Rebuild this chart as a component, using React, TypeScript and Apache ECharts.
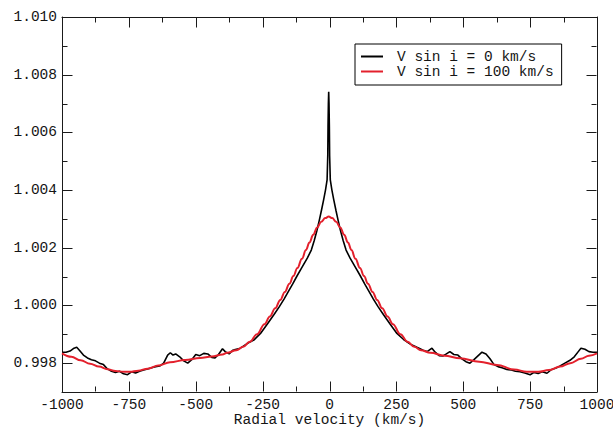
import React, { useEffect, useRef } from "react";
import * as echarts from "echarts";

// ---- Data ----
const seriesNames = ["V sin i = 0 km/s", "V sin i = 100 km/s"];

// V sin i = 0 km/s profile (radial velocity in km/s, normalised flux)
const vel0 = [
  -1000, -985, -970, -955, -945, -935, -920, -905, -890, -875, -860, -845, -830, -815, -800, -785,
  -770, -755, -740, -725, -710, -695, -680, -665, -650, -635, -620, -605, -595, -585, -575, -560,
  -545, -530, -515, -500, -485, -470, -455, -440, -428, -415, -400, -390, -375, -362, -356, -333,
  -308, -283, -258, -233, -208, -188, -170, -153, -138, -121, -103, -83, -68, -57, -47, -38,
  -30, -22, -15, -9, -6.5, -5.5, -4.2, -3, -1.8, -0.5, 0.5, 3, 9, 16, 24, 32,
  41, 51, 62, 77, 97, 115, 132, 147, 164, 182, 202, 227, 252, 277, 302, 327,
  350, 365, 383, 395, 410, 424, 437, 450, 465, 480, 495, 510, 525, 540, 555, 570,
  585, 600, 615, 630, 645, 663, 680, 695, 712, 730, 750, 765, 780, 795, 813, 830,
  845, 862, 880, 899, 915, 930, 940, 955, 970, 985, 1000,
];
const flux0 = [
  0.99838, 0.99838, 0.99842, 0.99852, 0.99855, 0.99845, 0.99828, 0.99818, 0.99812, 0.99808, 0.998, 0.99795, 0.9978, 0.99772, 0.99768, 0.99772,
  0.99763, 0.9976, 0.9977, 0.99766, 0.99772, 0.99776, 0.9978, 0.99784, 0.99788, 0.9979, 0.998, 0.99828, 0.99836, 0.99828, 0.99832, 0.99822,
  0.99808, 0.998, 0.99812, 0.9983, 0.99826, 0.99834, 0.99832, 0.9982, 0.99818, 0.9983, 0.9985, 0.9984, 0.99832, 0.99845, 0.99846, 0.99852,
  0.99868, 0.9988, 0.99903, 0.99935, 0.99968, 0.99995, 1.00022, 1.0005, 1.00074, 1.00103, 1.00132, 1.00164, 1.00192, 1.00225, 1.0026, 1.00296,
  1.0033, 1.00366, 1.004, 1.00435, 1.0052, 1.0062, 1.007, 1.00741, 1.007, 1.0062, 1.0052, 1.00435, 1.004, 1.00366, 1.0033, 1.00296,
  1.0026, 1.00225, 1.00192, 1.00164, 1.00132, 1.00103, 1.00074, 1.0005, 1.00022, 0.99995, 0.99968, 0.99935, 0.99903, 0.99882, 0.99866, 0.99855,
  0.99845, 0.9984, 0.99852, 0.99838, 0.99826, 0.99825, 0.99832, 0.9984, 0.9983, 0.99828, 0.99815, 0.99805, 0.998, 0.99812, 0.99825, 0.99838,
  0.99832, 0.99815, 0.99795, 0.99788, 0.99784, 0.99778, 0.99776, 0.99772, 0.9977, 0.99766, 0.9976, 0.99768, 0.99764, 0.9977, 0.99765, 0.99778,
  0.99782, 0.9979, 0.998, 0.9981, 0.99822, 0.9984, 0.99852, 0.99848, 0.9984, 0.99838, 0.99838,
];

// V sin i = 100 km/s profile
const vel100 = [
  -1000, -965, -930, -895, -862, -830, -800, -770, -746, -715, -680, -640, -596, -540, -484, -440,
  -400, -383, -348, -323, -298, -271, -243, -223, -203, -184, -167, -150, -135, -120, -103, -88,
  -75, -61, -46, -31, -16, -3, 10, 25, 40, 55, 69, 82, 97, 114, 129, 144,
  161, 178, 197, 217, 237, 265, 292, 317, 342, 377, 430, 488, 560, 626, 690, 738,
  780, 820, 862, 900, 940, 970, 1000,
];
const flux100 = [
  0.99834, 0.99822, 0.9981, 0.99798, 0.99788, 0.99779, 0.99773, 0.9977, 0.9977, 0.99774, 0.99781, 0.99792, 0.99803, 0.99811, 0.99818, 0.99823,
  0.9983, 0.99836, 0.99845, 0.99857, 0.99874, 0.999, 0.99935, 0.99962, 0.9999, 1.00019, 1.00047, 1.00075, 1.00102, 1.0013, 1.00162, 1.00192,
  1.00218, 1.00245, 1.0027, 1.0029, 1.00303, 1.00308, 1.00303, 1.0029, 1.0027, 1.00245, 1.00218, 1.00192, 1.00162, 1.0013, 1.00102, 1.00075,
  1.00047, 1.00019, 0.9999, 0.99962, 0.99935, 0.999, 0.99874, 0.99857, 0.99845, 0.99836, 0.99826, 0.99817, 0.99805, 0.99794, 0.99778, 0.9977,
  0.9977, 0.99776, 0.99788, 0.998, 0.99815, 0.99826, 0.99834,
];

const xMin = -1000;
const xMax = 1000;
const xStep = 250;
const xMajorTicks = [-1000, -750, -500, -250, 0, 250, 500, 750, 1000];
const xMinorTicks = [-875, -625, -375, -125, 125, 375, 625, 875];
const yMin = 0.997;
const yMax = 1.01;
const yMajorTicks = [0.998, 1.0, 1.002, 1.004, 1.006, 1.008, 1.01];
const yMinorTicks = [0.999, 1.001, 1.003, 1.005, 1.007, 1.009];
const xTitle = "Radial velocity (km/s)";

const FONT = "'Liberation Mono', 'DejaVu Sans Mono', monospace";
const FS = 14.5;
const AX = "#1a1a1a";
const TXT = "#151515";

export default function App() {
  const ref = useRef<HTMLDivElement>(null);
  useEffect(() => {
    if (!ref.current) return;
    const chart = echarts.init(ref.current, undefined, { renderer: "svg" });
    const lineAxis = { show: true, onZero: false, lineStyle: { color: AX, width: 1 } };
    chart.setOption({
      animation: false,
      backgroundColor: "#ffffff",
      grid: { left: 62, right: 16, top: 17, bottom: 36, outerBoundsMode: "none" },
      legend: {
        left: 355,
        top: 44,
        orient: "vertical",
        padding: [5, 8, 6, 6],
        itemGap: 0,
        itemWidth: 22,
        itemHeight: 2,
        icon: "rect",
        borderColor: "#000",
        borderWidth: 1,
        backgroundColor: "#fff",
        textStyle: { fontFamily: FONT, fontSize: FS, color: TXT, padding: [0, 0, 0, 9] },
        data: seriesNames,
      },
      xAxis: [
        {
          type: "value",
          position: "bottom",
          min: xMin,
          max: xMax,
          interval: xStep,
          axisLine: lineAxis,
          axisTick: { show: false },
          splitLine: { show: false },
          axisLabel: {
            fontFamily: FONT,
            fontSize: FS,
            color: TXT,
            margin: 5,
            formatter: (v: number) => String(v),
          },
          name: xTitle,
          nameLocation: "middle",
          nameGap: 20,
          nameMoveOverlap: false,
          nameTextStyle: { fontFamily: FONT, fontSize: FS, color: TXT },
        },
        {
          type: "value",
          position: "top",
          min: xMin,
          max: xMax,
          interval: xStep,
          axisLine: lineAxis,
          axisTick: { show: false },
          axisLabel: { show: false },
          splitLine: { show: false },
        },
      ],
      yAxis: [
        {
          type: "value",
          position: "left",
          min: yMin,
          max: yMax,
          axisLine: lineAxis,
          axisTick: { show: false },
          splitLine: { show: false },
          axisLabel: {
            customValues: yMajorTicks,
            fontFamily: FONT,
            fontSize: FS,
            color: TXT,
            margin: 5,
            formatter: (v: number) => v.toFixed(3),
          },
        },
        {
          type: "value",
          position: "right",
          min: yMin,
          max: yMax,
          axisLine: lineAxis,
          axisTick: { show: false },
          axisLabel: { show: false },
          splitLine: { show: false },
        },
      ],
      series: [
        {
          name: seriesNames[0],
          type: "line",
          data: vel0.map((v, i) => [v, flux0[i]]),
          showSymbol: false,
          symbol: "none",
          lineStyle: { color: "#000", width: 1.6 },
          itemStyle: { color: "#000" },
        },
        {
          name: seriesNames[1],
          type: "line",
          data: vel100.map((v, i) => [v, flux100[i]]),
          showSymbol: false,
          symbol: "none",
          smooth: 0.4,
          smoothMonotone: "x",
          lineStyle: { color: "#e3202c", width: 2 },
          itemStyle: { color: "#e3202c" },
        },
      ],
    });

    // Inward ticks on all four sides, positioned through the axes' own scales.
    try {
      const px = (v: number) => Number(chart.convertToPixel({ xAxisIndex: 0 }, v));
      const py = (v: number) => Number(chart.convertToPixel({ yAxisIndex: 0 }, v));
      const left = Math.round(px(xMin)) + 0.5;
      const right = Math.round(px(xMax)) - 0.5;
      const bottom = Math.round(py(yMin)) - 0.5;
      const top = Math.round(py(yMax)) + 0.5;
      const st = { stroke: AX, lineWidth: 1 };
      const g: any[] = [];
      const xt = (v: number, len: number) => {
        const x = Math.round(px(v)) + 0.5;
        g.push({ type: "line", silent: true, shape: { x1: x, y1: bottom, x2: x, y2: bottom - len }, style: st, z: 10 });
        g.push({ type: "line", silent: true, shape: { x1: x, y1: top, x2: x, y2: top + len }, style: st, z: 10 });
      };
      const yt = (v: number, len: number) => {
        const y = Math.round(py(v)) + 0.5;
        g.push({ type: "line", silent: true, shape: { x1: left, y1: y, x2: left + len, y2: y }, style: st, z: 10 });
        g.push({ type: "line", silent: true, shape: { x1: right, y1: y, x2: right - len, y2: y }, style: st, z: 10 });
      };
      xMajorTicks.forEach((v) => xt(v, 10));
      xMinorTicks.forEach((v) => xt(v, 5));
      yMajorTicks.forEach((v) => yt(v, 10));
      yMinorTicks.forEach((v) => yt(v, 5));
      chart.setOption({ graphic: { elements: g } });
    } catch (e) {
      // leave the chart without the extra ticks if conversion fails
    }

    return () => chart.dispose();
  }, []);
  return (
    <div
      ref={ref}
      style={{ position: "fixed", left: 0, top: 0, width: 613, height: 428, background: "#fff" }}
    />
  );
}
